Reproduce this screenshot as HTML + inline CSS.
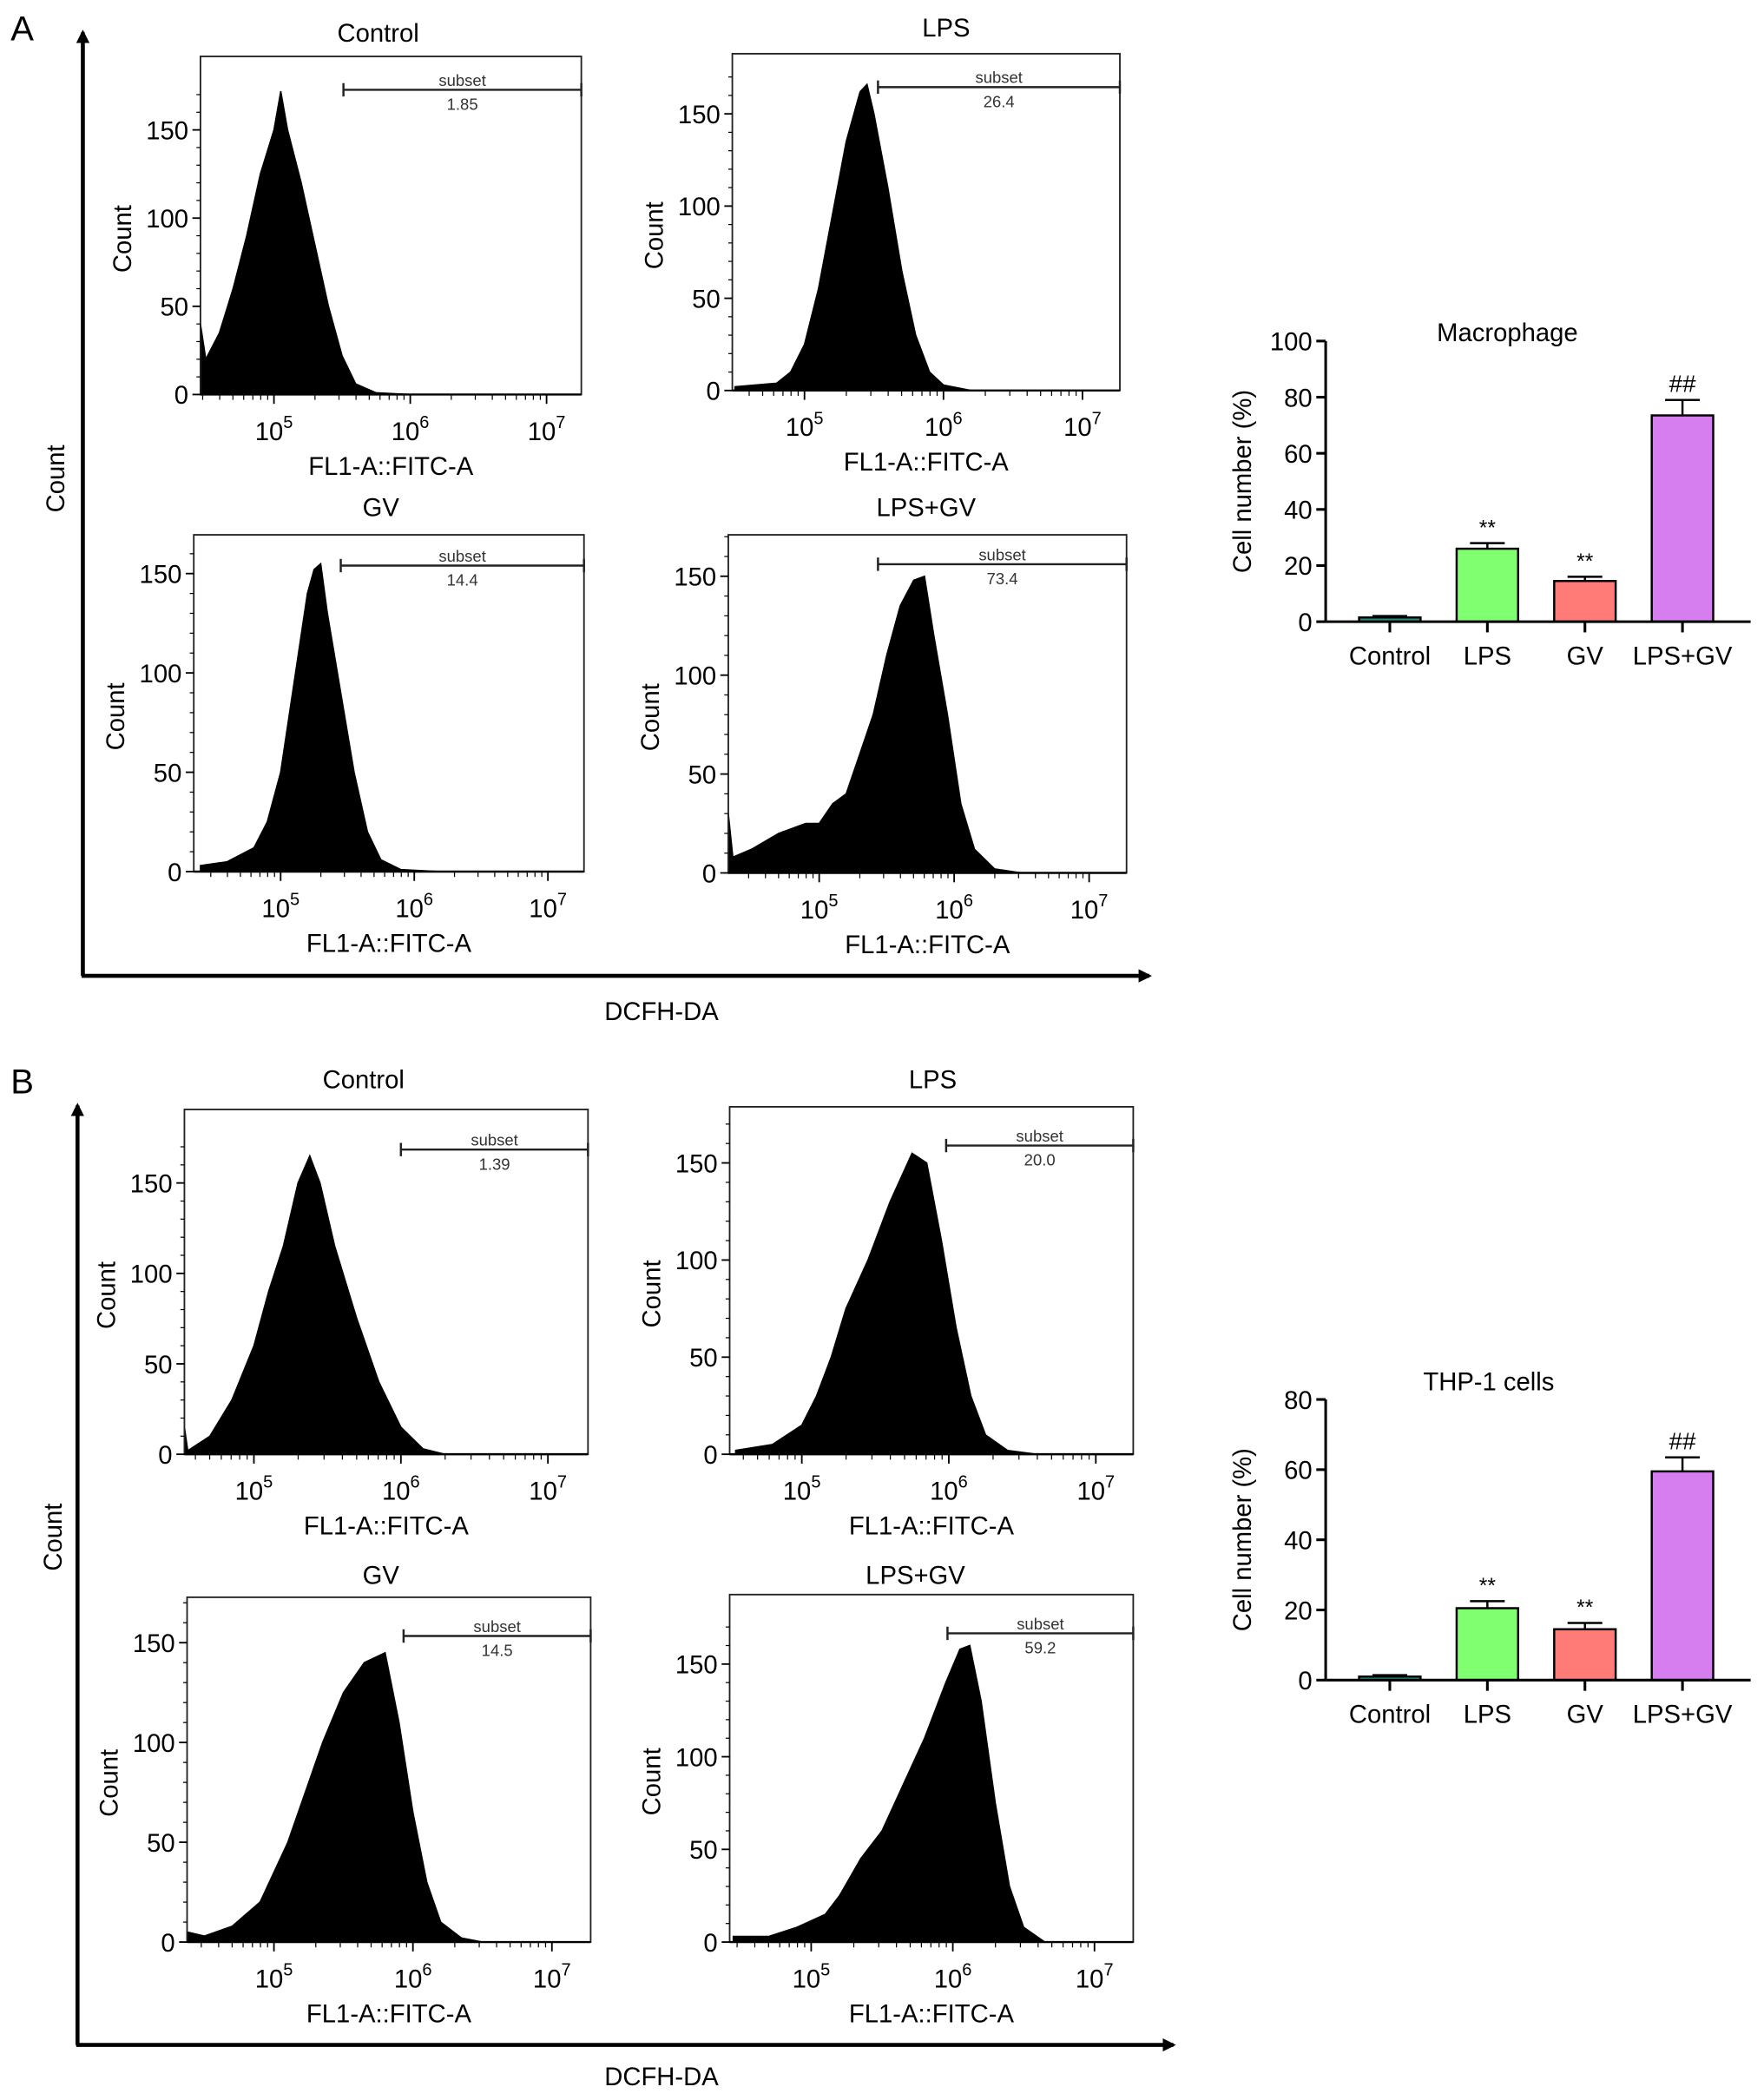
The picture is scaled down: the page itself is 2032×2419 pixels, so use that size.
<!DOCTYPE html>
<html><head><meta charset="utf-8">
<style>
html,body{margin:0;padding:0;background:#fff;}
svg{display:block;font-family:"Liberation Sans",Arial,sans-serif;}
</style></head>
<body>
<svg id="fig" width="2032" height="2419" viewBox="0 0 1320 1571" xmlns="http://www.w3.org/2000/svg">
<defs>
<marker id="ah" markerWidth="10" markerHeight="10" refX="8" refY="5" orient="auto" markerUnits="userSpaceOnUse">
<path d="M0,0 L10,5 L0,10 z" fill="#000"/>
</marker>
</defs>
<g>
<text x="8" y="30" font-size="26">A</text>
<line x1="62" y1="730" x2="62" y2="24" stroke="#000" stroke-width="3" marker-end="url(#ah)"/>
<line x1="61" y1="730" x2="860" y2="730" stroke="#000" stroke-width="3" marker-end="url(#ah)"/>
<text transform="translate(48,358) rotate(-90)" font-size="19" text-anchor="middle">Count</text>
<text x="495" y="763" font-size="19" text-anchor="middle">DCFH-DA</text>
</g>
<g>
<text x="8" y="818" font-size="26">B</text>
<line x1="58" y1="1530" x2="58" y2="827" stroke="#000" stroke-width="3" marker-end="url(#ah)"/>
<line x1="57" y1="1530" x2="878" y2="1530" stroke="#000" stroke-width="3" marker-end="url(#ah)"/>
<text transform="translate(46,1150) rotate(-90)" font-size="19" text-anchor="middle">Count</text>
<text x="495" y="1560" font-size="19" text-anchor="middle">DCFH-DA</text>
</g>
</svg>
<script>
// ---- histogram data (log10 fluorescence, count) ----
const histTitles = ["Control","LPS","GV","LPS+GV","Control","LPS","GV","LPS+GV"];
const subsetValues = ["1.85","26.4","14.4","73.4","1.39","20.0","14.5","59.2"];
const histLogA1 = [4.45,4.5,4.6,4.7,4.8,4.9,5.0,5.05,5.1,5.2,5.3,5.4,5.5,5.6,5.75,6.0];
const histCntA1 = [40,20,35,60,90,125,150,172,150,120,85,50,22,6,1,0];
const histLogA2 = [4.5,4.8,4.9,5.0,5.1,5.2,5.3,5.4,5.45,5.5,5.6,5.7,5.8,5.9,6.0,6.2];
const histCntA2 = [2,4,10,25,55,95,135,162,166,150,110,65,30,10,3,0];
const histLogA3 = [4.4,4.6,4.8,4.9,5.0,5.1,5.2,5.25,5.3,5.35,5.45,5.55,5.65,5.75,5.9,6.2];
const histCntA3 = [3,5,12,25,50,95,140,152,155,130,90,50,20,6,1,0];
const histLogA4 = [4.32,4.36,4.5,4.7,4.9,5.0,5.1,5.2,5.3,5.4,5.5,5.6,5.7,5.78,5.85,5.95,6.05,6.15,6.3,6.5];
const histCntA4 = [30,8,12,20,25,25,35,40,60,80,110,135,148,150,120,80,35,12,2,0];
const histLogB1 = [4.51,4.55,4.7,4.85,5.0,5.1,5.2,5.3,5.38,5.45,5.55,5.7,5.85,6.0,6.15,6.3];
const histCntB1 = [15,2,10,30,60,90,115,150,165,150,115,75,40,15,3,0];
const histLogB2 = [4.55,4.8,5.0,5.1,5.2,5.3,5.45,5.6,5.75,5.85,5.95,6.05,6.15,6.25,6.4,6.6];
const histCntB2 = [2,5,15,30,50,75,100,130,155,150,110,65,30,10,2,0];
const histLogB3 = [4.35,4.5,4.7,4.9,5.0,5.1,5.2,5.35,5.5,5.65,5.8,5.9,6.0,6.1,6.2,6.35,6.5];
const histCntB3 = [5,3,8,20,35,50,70,100,125,140,145,110,65,30,10,2,0];
const histLogB4 = [4.45,4.7,4.9,5.1,5.2,5.35,5.5,5.65,5.8,5.95,6.05,6.12,6.2,6.3,6.4,6.5,6.65];
const histCntB4 = [3,3,8,15,25,45,60,85,110,140,158,160,130,75,30,8,0];
const histCountTicks = [0,50,100,150];
const histDecades = [5,6,7];

// ---- bar chart data ----
const barCategories = ["Control","LPS","GV","LPS+GV"];
const barColors = ["#2e8b80","#80ff70","#ff7b78","#d67ef0"];
const macroValues = [1.5,26,14.5,73.5];
const macroErrors = [0.5,2,1.5,5.5];
const macroMarks = ["","**","**","##"];
const macroTicks = [0,20,40,60,80,100];
const thpValues = [1,20.5,14.5,59.5];
const thpErrors = [0.4,2,1.8,4];
const thpMarks = ["","**","**","##"];
const thpTicks = [0,20,40,60,80];

const NS = "http://www.w3.org/2000/svg";
const svg = document.getElementById("fig");
function mk(tag, attrs, parent){
  const e = document.createElementNS(NS, tag);
  for (const k in attrs) e.setAttribute(k, attrs[k]);
  (parent||svg).appendChild(e);
  return e;
}
function txt(parent, x, y, s, size, anchor, extra){
  const t = mk("text", Object.assign({x:x, y:y, "font-size":size, "text-anchor":anchor||"middle"}, extra||{}), parent);
  t.textContent = s;
  return t;
}

// layout: [boxL, boxT, boxR, boxB, titleX, titleY, dec5X, decW, y150, subsetL, subsetY]
const histLayouts = [
  [150,42,435,295, 283,31, 205,102, 97, 257,67],
  [548,40,838,292, 708,27, 602,104, 85, 657,65],
  [145,400,437,652, 285,386, 210,100, 429, 255,423],
  [545,400,843,653, 693,386, 613,101, 431, 657,422],
  [138,830,440,1088, 272,814, 190,110, 885, 300,860],
  [546,828,848,1088, 698,814, 600,110, 870, 708,857],
  [140,1195,442,1453, 285,1185, 205,104, 1229, 302,1224],
  [546,1193,848,1453, 685,1185, 607,106, 1245, 709,1222]
];
const histLogs = [histLogA1,histLogA2,histLogA3,histLogA4,histLogB1,histLogB2,histLogB3,histLogB4];
const histCnts = [histCntA1,histCntA2,histCntA3,histCntA4,histCntB1,histCntB2,histCntB3,histCntB4];
const histNames = ["a-control","a-lps","a-gv","a-lps-gv","b-control","b-lps","b-gv","b-lps-gv"];

histLayouts.forEach((L, i) => {
  const [bl,bt,br,bb,tx,ty,d5,dw,y150,sl,sy] = L;
  const g = mk("g", {});
  
  
  const xS = v => d5 + (v - 5) * dw;
  const yS = c => bb - c * (bb - y150) / 150;
  // filled histogram
  const lg = histLogs[i], cn = histCnts[i];
  let d = "M" + Math.max(bl, xS(lg[0])) + "," + bb;
  for (let k = 0; k < lg.length; k++) d += " L" + Math.max(bl, xS(lg[k])).toFixed(1) + "," + yS(cn[k]).toFixed(1);
  d += " L" + xS(lg[lg.length-1]).toFixed(1) + "," + bb + " Z";
  const p = mk("path", {d:d, fill:"#000", stroke:"#000", "stroke-width":"1"}, g);
  
  
  // box
  const r = mk("rect", {x:bl, y:bt, width:br-bl, height:bb-bt, fill:"none", stroke:"#222", "stroke-width":"1.2"}, g);
  
  
  // title
  const t = txt(g, tx, ty, histTitles[i], 19);
  
  
  // y ticks
  histCountTicks.forEach(c => {
    const y = yS(c);
    mk("line", {x1:bl-6, y1:y, x2:bl, y2:y, stroke:"#000", "stroke-width":"1.2"}, g);
    const tl = txt(g, bl-9, y+7, String(c), 19, "end");
    
    
  });
  for (let c = 10; c < 180; c += 10) {
    const y = yS(c); if (y < bt) break;
    mk("line", {x1:bl-3, y1:y, x2:bl, y2:y, stroke:"#000", "stroke-width":"0.8"}, g);
  }
  // y label
  const yl = txt(g, 0, 0, "Count", 19, "middle", {transform:"translate(" + (bl-52) + "," + ((bt+bb)/2+10) + ") rotate(-90)"});
  
  
  // x axis line (thicker bottom)
  mk("line", {x1:bl, y1:bb, x2:br, y2:bb, stroke:"#000", "stroke-width":"1.6"}, g);
  // x ticks
  histDecades.forEach(dd => {
    const x = xS(dd);
    mk("line", {x1:x, y1:bb, x2:x, y2:bb+7, stroke:"#000", "stroke-width":"1.2"}, g);
    const tl = mk("text", {x:x, y:bb+34, "font-size":19, "text-anchor":"middle"}, g);
    
    
    const a = document.createElementNS(NS, "tspan"); a.textContent = "10"; tl.appendChild(a);
    const b = document.createElementNS(NS, "tspan"); b.setAttribute("dy", "-9"); b.setAttribute("font-size", "13"); b.textContent = String(dd); tl.appendChild(b);
  });
  for (let dd = 4; dd <= 7; dd++) for (let m = 2; m <= 9; m++) {
    const x = xS(dd + Math.log10(m));
    if (x > bl && x < br) mk("line", {x1:x, y1:bb, x2:x, y2:bb+4, stroke:"#000", "stroke-width":"0.8"}, g);
  }
  const xl = txt(g, (bl+br)/2, bb+60, "FL1-A::FITC-A", 19);
  
  
  // subset gate
  const gate = mk("g", {}, g);
  
  
  mk("line", {x1:sl, y1:sy, x2:br, y2:sy, stroke:"#222", "stroke-width":"1.6"}, gate);
  mk("line", {x1:sl, y1:sy-5, x2:sl, y2:sy+5, stroke:"#222", "stroke-width":"1.6"}, gate);
  mk("line", {x1:br, y1:sy-5, x2:br, y2:sy+5, stroke:"#222", "stroke-width":"1.6"}, gate);
  const st = txt(gate, (sl+br)/2, sy-3, "subset", 12, "middle", {fill:"#333"});
  
  
  const sv = txt(gate, (sl+br)/2, sy+15, subsetValues[i], 12, "middle", {fill:"#333"});
  
  
});

// ---- bar charts ----
function barChart(name, title, titleX, titleY, yTop, yBot, maxV, ticks, vals, errs, marks){
  const g = mk("g", {});
  
  
  const ax = 992, xEnd = 1310;
  const yS = v => yBot - v * (yBot - yTop) / maxV;
  const xC = [1040, 1113, 1186, 1259];
  const bw = 46;
  const tt = txt(g, titleX, titleY, title, 19);
  
  
  mk("line", {x1:ax, y1:yTop, x2:ax, y2:yBot, stroke:"#000", "stroke-width":"2"}, g);
  ticks.forEach(v => {
    const y = yS(v);
    mk("line", {x1:ax-7, y1:y, x2:ax, y2:y, stroke:"#000", "stroke-width":"2"}, g);
    const tl = txt(g, ax-10, y+7, String(v), 19, "end");
    
    
  });
  const yl = txt(g, 0, 0, "Cell number (%)", 19, "middle", {transform:"translate(" + 936 + "," + ((yTop+yBot)/2) + ") rotate(-90)"});
  
  
  vals.forEach((v, k) => {
    const x = xC[k];
    const eTop = yS(v + errs[k]);
    mk("line", {x1:x, y1:yS(v), x2:x, y2:eTop, stroke:"#000", "stroke-width":"1.6"}, g);
    mk("line", {x1:x-13, y1:eTop, x2:x+13, y2:eTop, stroke:"#000", "stroke-width":"1.6"}, g);
    const b = mk("rect", {x:x-bw/2, y:yS(v), width:bw, height:Math.max(1, yBot-yS(v)), fill:barColors[k], stroke:"#000", "stroke-width":"1.6"}, g);
    
    
    if (marks[k]) {
      const m = txt(g, x, eTop - 6, marks[k], marks[k] === "##" ? 18 : 16);
      
      
    }
    mk("line", {x1:x, y1:yBot, x2:x, y2:yBot+8, stroke:"#000", "stroke-width":"2"}, g);
    const cl = txt(g, x, yBot+32, barCategories[k], 19);
    
    
  });
  mk("line", {x1:ax, y1:yBot, x2:xEnd, y2:yBot, stroke:"#000", "stroke-width":"2"}, g);
}
barChart("bar-chart-macrophage", "Macrophage", 1128, 255, 255, 465, 100, macroTicks, macroValues, macroErrors, macroMarks);
barChart("bar-chart-thp1", "THP-1 cells", 1114, 1040, 1047, 1257, 80, thpTicks, thpValues, thpErrors, thpMarks);
</script>
</body></html>
